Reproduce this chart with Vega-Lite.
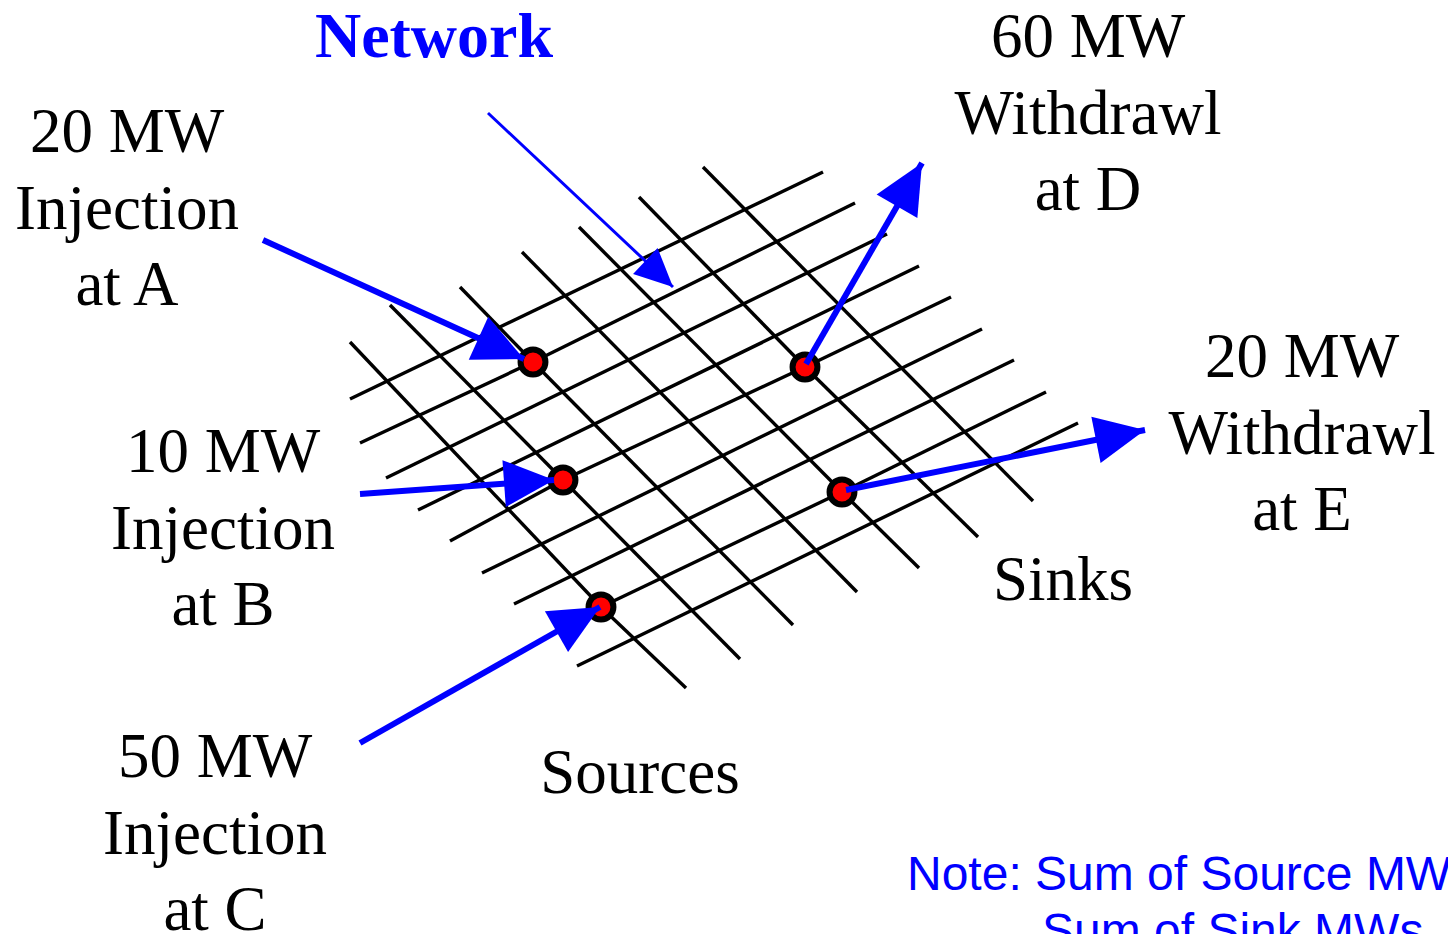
{
  "$schema": "https://vega.github.io/schema/vega-lite/v6.json",
  "width": 1448,
  "height": 934,
  "autosize": {"type": "none"},
  "padding": 0,
  "background": "white",
  "config": {"view": {"stroke": null}},
  "datasets": {
    "grid": [
      {"x": 350, "y": 399, "x2": 823, "y2": 172},
      {"x": 360, "y": 443, "x2": 533, "y2": 362},
      {"x": 533, "y": 362, "x2": 855, "y2": 203},
      {"x": 386, "y": 478, "x2": 887, "y2": 234},
      {"x": 418, "y": 510, "x2": 919, "y2": 266},
      {"x": 450, "y": 541, "x2": 563, "y2": 480},
      {"x": 563, "y": 480, "x2": 805, "y2": 367},
      {"x": 805, "y": 367, "x2": 951, "y2": 297},
      {"x": 482, "y": 573, "x2": 982, "y2": 329},
      {"x": 514, "y": 604, "x2": 1014, "y2": 360},
      {"x": 601, "y": 607, "x2": 842, "y2": 492},
      {"x": 842, "y": 492, "x2": 1046, "y2": 392},
      {"x": 577, "y": 666, "x2": 1078, "y2": 423},
      {"x": 350, "y": 342, "x2": 601, "y2": 607},
      {"x": 601, "y": 607, "x2": 686, "y2": 688},
      {"x": 390, "y": 305, "x2": 563, "y2": 480},
      {"x": 563, "y": 480, "x2": 740, "y2": 659},
      {"x": 460, "y": 287, "x2": 533, "y2": 362},
      {"x": 533, "y": 362, "x2": 793, "y2": 625},
      {"x": 522, "y": 252, "x2": 857, "y2": 592},
      {"x": 579, "y": 227, "x2": 842, "y2": 492},
      {"x": 842, "y": 492, "x2": 919, "y2": 568},
      {"x": 639, "y": 197, "x2": 805, "y2": 367},
      {"x": 805, "y": 367, "x2": 978, "y2": 537},
      {"x": 703, "y": 167, "x2": 1033, "y2": 501}
    ],
    "nodes": [
      {"node": "A", "x": 533, "y": 362},
      {"node": "B", "x": 563, "y": 480},
      {"node": "C", "x": 601, "y": 607},
      {"node": "D", "x": 805, "y": 367},
      {"node": "E", "x": 842, "y": 492}
    ],
    "arrows": [
      {"name": "A", "kind": "flow", "x": 263, "y": 240, "x2": 524, "y2": 359},
      {"name": "B", "kind": "flow", "x": 360, "y": 494, "x2": 554, "y2": 480},
      {"name": "C", "kind": "flow", "x": 360, "y": 743, "x2": 600, "y2": 607},
      {"name": "D", "kind": "flow", "x": 806, "y": 364, "x2": 922, "y2": 163},
      {"name": "E", "kind": "flow", "x": 846, "y": 490, "x2": 1145, "y2": 430},
      {"name": "Network", "kind": "label", "x": 488, "y": 113, "x2": 673, "y2": 287}
    ],
    "labels": [
      {"x": 127, "y": 152, "t": "20 MW\nInjection\nat A"},
      {"x": 223, "y": 472, "t": "10 MW\nInjection\nat B"},
      {"x": 215, "y": 777, "t": "50 MW\nInjection\nat C"},
      {"x": 1088, "y": 57, "t": "60 MW\nWithdrawl\nat D"},
      {"x": 1302, "y": 377, "t": "20 MW\nWithdrawl\nat E"},
      {"x": 1063, "y": 600, "t": "Sinks"},
      {"x": 640, "y": 793, "t": "Sources"}
    ],
    "title": [
      {"x": 434, "y": 57, "t": "Network"}
    ],
    "note": [
      {"x": 907, "y": 890, "t": "Note: Sum of Source MWs ="},
      {"x": 1042, "y": 947, "t": "Sum of Sink MWs"}
    ]
  },
  "layer": [
    {
      "data": {"name": "grid"},
      "mark": {"type": "rule", "color": "black", "strokeWidth": 3.4},
      "encoding": {
        "x": {"field": "x", "type": "quantitative", "scale": {"domain": [0, 1448], "nice": false, "zero": false}, "axis": null},
        "y": {"field": "y", "type": "quantitative", "scale": {"domain": [0, 934], "nice": false, "zero": false, "reverse": true}, "axis": null},
        "x2": {"field": "x2"},
        "y2": {"field": "y2"}
      }
    },
    {
      "data": {"name": "nodes"},
      "mark": {"type": "point", "shape": "circle", "filled": true, "fill": "#ff0000", "stroke": "black", "strokeWidth": 6, "opacity": 1, "size": 620},
      "encoding": {
        "x": {"field": "x", "type": "quantitative", "scale": {"domain": [0, 1448], "nice": false, "zero": false}, "axis": null},
        "y": {"field": "y", "type": "quantitative", "scale": {"domain": [0, 934], "nice": false, "zero": false, "reverse": true}, "axis": null}
      }
    },
    {
      "data": {"name": "arrows"},
      "mark": {"type": "rule", "color": "#0000ff"},
      "encoding": {
        "x": {"field": "x", "type": "quantitative", "scale": {"domain": [0, 1448], "nice": false, "zero": false}, "axis": null},
        "y": {"field": "y", "type": "quantitative", "scale": {"domain": [0, 934], "nice": false, "zero": false, "reverse": true}, "axis": null},
        "x2": {"field": "x2"},
        "y2": {"field": "y2"},
        "strokeWidth": {"field": "kind", "type": "nominal", "scale": {"domain": ["flow", "label"], "range": [6, 3]}, "legend": null}
      }
    },
    {
      "data": {"name": "arrows"},
      "transform": [
        {"calculate": "atan2(datum.y2 - datum.y, datum.x2 - datum.x) * 180 / PI", "as": "heading"}
      ],
      "mark": {"type": "point", "shape": "M0,0L-2,-0.94L-2,0.94Z", "filled": true, "color": "#0000ff", "opacity": 1, "strokeWidth": 0},
      "encoding": {
        "x": {"field": "x2", "type": "quantitative", "scale": {"domain": [0, 1448], "nice": false, "zero": false}, "axis": null},
        "y": {"field": "y2", "type": "quantitative", "scale": {"domain": [0, 934], "nice": false, "zero": false, "reverse": true}, "axis": null},
        "angle": {"field": "heading", "type": "quantitative", "scale": null},
        "size": {"field": "kind", "type": "nominal", "scale": {"domain": ["flow", "label"], "range": [2500, 1444]}, "legend": null}
      }
    },
    {
      "data": {"name": "labels"},
      "mark": {"type": "text", "font": "Liberation Serif", "fontSize": 63, "color": "black", "align": "center", "baseline": "alphabetic", "lineBreak": "\n", "lineHeight": 76.5},
      "encoding": {
        "x": {"field": "x", "type": "quantitative", "scale": {"domain": [0, 1448], "nice": false, "zero": false}, "axis": null},
        "y": {"field": "y", "type": "quantitative", "scale": {"domain": [0, 934], "nice": false, "zero": false, "reverse": true}, "axis": null},
        "text": {"field": "t", "type": "nominal"}
      }
    },
    {
      "data": {"name": "title"},
      "mark": {"type": "text", "font": "Liberation Serif", "fontSize": 64, "fontWeight": "bold", "color": "#0000ff", "align": "center", "baseline": "alphabetic"},
      "encoding": {
        "x": {"field": "x", "type": "quantitative", "scale": {"domain": [0, 1448], "nice": false, "zero": false}, "axis": null},
        "y": {"field": "y", "type": "quantitative", "scale": {"domain": [0, 934], "nice": false, "zero": false, "reverse": true}, "axis": null},
        "text": {"field": "t", "type": "nominal"}
      }
    },
    {
      "data": {"name": "note"},
      "mark": {"type": "text", "font": "Liberation Sans", "fontSize": 48, "color": "#0000ff", "align": "left", "baseline": "alphabetic"},
      "encoding": {
        "x": {"field": "x", "type": "quantitative", "scale": {"domain": [0, 1448], "nice": false, "zero": false}, "axis": null},
        "y": {"field": "y", "type": "quantitative", "scale": {"domain": [0, 934], "nice": false, "zero": false, "reverse": true}, "axis": null},
        "text": {"field": "t", "type": "nominal"}
      }
    }
  ]
}
